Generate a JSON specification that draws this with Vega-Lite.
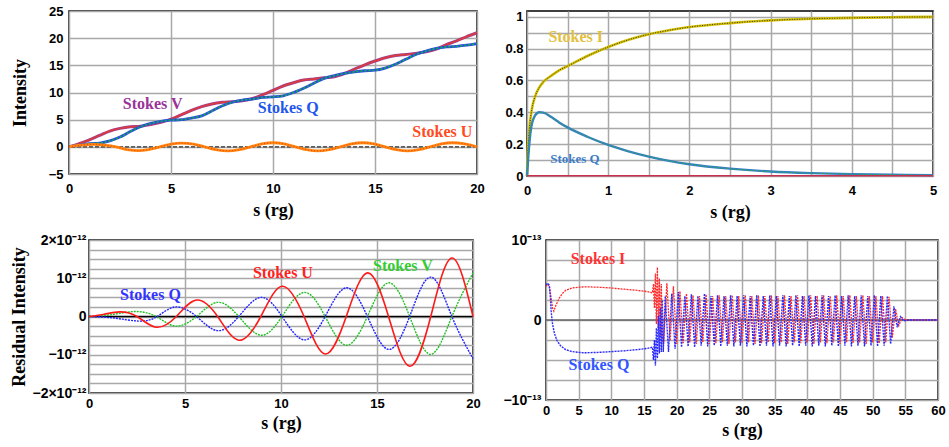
{
  "$schema": "https://vega.github.io/schema/vega-lite/v6.json",
  "padding": {"left": 9, "top": 3, "right": 0, "bottom": 0},
  "background": "white",
  "config": {
    "view": {"stroke": "#000000", "strokeWidth": 1.5},
    "axis": {
      "labelFont": "Liberation Sans", "labelFontWeight": "bold", "labelFontSize": 13, "labelColor": "#000000",
      "titleFont": "Liberation Serif", "titleFontWeight": "bold", "titleFontSize": 18, "titleColor": "#000000",
      "grid": true, "gridColor": "#a8a8a8", "gridWidth": 1.5, "ticks": false, "domain": false,
      "labelFlush": false, "labelOverlap": false, "tickCount": 100
    },
    "text": {"font": "Liberation Serif", "fontWeight": "bold", "fontSize": 16}
  },
  "datasets": {
    "tl_V": [
      {"s":0,"v":0},{"s":0.5,"v":0.6},{"s":1,"v":1.3},{"s":1.5,"v":2.1},{"s":2,"v":2.9},{"s":2.5,"v":3.4},{"s":3,"v":3.7},{"s":3.5,"v":3.8},{"s":4,"v":4.1},{"s":4.5,"v":4.5},{"s":5,"v":5.1},{"s":5.5,"v":5.9},{"s":6,"v":6.7},{"s":6.5,"v":7.4},{"s":7,"v":7.9},{"s":7.5,"v":8.2},{"s":8,"v":8.3},{"s":8.5,"v":8.5},{"s":9,"v":8.9},{"s":9.5,"v":9.6},{"s":10,"v":10.4},{"s":10.5,"v":11.2},{"s":11,"v":11.8},{"s":11.5,"v":12.3},{"s":12,"v":12.5},{"s":12.5,"v":12.7},{"s":13,"v":12.9},{"s":13.5,"v":13.5},{"s":14,"v":14.3},{"s":14.5,"v":15.1},{"s":15,"v":15.8},{"s":15.5,"v":16.4},{"s":16,"v":16.8},{"s":16.5,"v":17},{"s":17,"v":17.2},{"s":17.5,"v":17.5},{"s":18,"v":18},{"s":18.5,"v":18.8},{"s":19,"v":19.5},{"s":19.5,"v":20.3},{"s":20,"v":21}
    ],
    "tl_Q": [
      {"s":0,"v":0},{"s":0.5,"v":0.3},{"s":1,"v":0.6},{"s":1.5,"v":0.7},{"s":2,"v":1.1},{"s":2.5,"v":1.8},{"s":3,"v":2.8},{"s":3.5,"v":3.7},{"s":4,"v":4.3},{"s":4.5,"v":4.7},{"s":5,"v":4.9},{"s":5.5,"v":5},{"s":6,"v":5.3},{"s":6.5,"v":5.7},{"s":7,"v":6.6},{"s":7.5,"v":7.5},{"s":8,"v":8.2},{"s":8.5,"v":8.6},{"s":9,"v":8.8},{"s":9.5,"v":9.1},{"s":10,"v":9.2},{"s":10.5,"v":9.4},{"s":11,"v":10},{"s":11.5,"v":10.8},{"s":12,"v":11.7},{"s":12.5,"v":12.6},{"s":13,"v":13.1},{"s":13.5,"v":13.5},{"s":14,"v":13.8},{"s":14.5,"v":14},{"s":15,"v":14.1},{"s":15.5,"v":14.5},{"s":16,"v":15.2},{"s":16.5,"v":16.1},{"s":17,"v":17},{"s":17.5,"v":17.6},{"s":18,"v":18.1},{"s":18.5,"v":18.4},{"s":19,"v":18.5},{"s":19.5,"v":18.7},{"s":20,"v":19}
    ],
    "tl_U": [
      {"s":0,"v":0},{"s":0.6,"v":0.3},{"s":1.2,"v":0.45},{"s":1.75,"v":0.3},{"s":2.3,"v":0},{"s":2.85,"v":-0.5},{"s":3.4,"v":-0.7},{"s":3.9,"v":-0.5},{"s":4.45,"v":0},{"s":5,"v":0.5},{"s":5.5,"v":0.7},{"s":6.1,"v":0.5},{"s":6.65,"v":0},{"s":7.2,"v":-0.53},{"s":7.8,"v":-0.75},{"s":8.35,"v":-0.53},{"s":8.9,"v":0},{"s":9.45,"v":0.53},{"s":10,"v":0.75},{"s":10.55,"v":0.53},{"s":11.1,"v":0},{"s":11.65,"v":-0.53},{"s":12.2,"v":-0.75},{"s":12.75,"v":-0.53},{"s":13.3,"v":0},{"s":13.85,"v":0.53},{"s":14.4,"v":0.75},{"s":14.95,"v":0.53},{"s":15.5,"v":0},{"s":16.05,"v":-0.53},{"s":16.6,"v":-0.75},{"s":17.15,"v":-0.53},{"s":17.7,"v":0},{"s":18.25,"v":0.53},{"s":18.8,"v":0.75},{"s":19.4,"v":0.53},{"s":20,"v":0}
    ],
    "tr_I": [
      {"s":0,"v":0},{"s":0.01,"v":0.15},{"s":0.03,"v":0.3},{"s":0.06,"v":0.42},{"s":0.1,"v":0.5},{"s":0.15,"v":0.555},{"s":0.2,"v":0.59},{"s":0.3,"v":0.63},{"s":0.4,"v":0.665},{"s":0.5,"v":0.69},{"s":0.75,"v":0.755},{"s":1,"v":0.81},{"s":1.25,"v":0.855},{"s":1.5,"v":0.89},{"s":1.75,"v":0.915},{"s":2,"v":0.935},{"s":2.5,"v":0.96},{"s":3,"v":0.977},{"s":3.5,"v":0.987},{"s":4,"v":0.993},{"s":4.5,"v":0.997},{"s":5,"v":0.999}
    ],
    "tr_Q": [
      {"s":0,"v":0},{"s":0.02,"v":0.15},{"s":0.05,"v":0.3},{"s":0.1,"v":0.38},{"s":0.15,"v":0.4},{"s":0.2,"v":0.398},{"s":0.3,"v":0.37},{"s":0.4,"v":0.335},{"s":0.5,"v":0.305},{"s":0.75,"v":0.245},{"s":1,"v":0.195},{"s":1.25,"v":0.155},{"s":1.5,"v":0.122},{"s":1.75,"v":0.095},{"s":2,"v":0.074},{"s":2.5,"v":0.046},{"s":3,"v":0.028},{"s":3.5,"v":0.018},{"s":4,"v":0.012},{"s":4.5,"v":0.008},{"s":5,"v":0.005}
    ],
    "bl_U": [
      {"s":0,"v":0},{"s":0.8,"v":0.06e-12},{"s":1.6,"v":0.12e-12},{"s":2.5,"v":0},{"s":3.5,"v":-0.28e-12},{"s":4.55,"v":0},{"s":5.6,"v":0.43e-12},{"s":6.7,"v":0},{"s":7.8,"v":-0.62e-12},{"s":8.95,"v":0},{"s":10.05,"v":0.79e-12},{"s":11.2,"v":0},{"s":12.3,"v":-0.98e-12},{"s":13.4,"v":0},{"s":14.5,"v":1.14e-12},{"s":15.6,"v":0},{"s":16.7,"v":-1.3e-12},{"s":17.8,"v":0},{"s":18.9,"v":1.53e-12},{"s":20,"v":0}
    ],
    "bl_Q": [
      {"s":0,"v":0},{"s":1.3,"v":-0.04e-12},{"s":2.6,"v":-0.12e-12},{"s":3.55,"v":0},{"s":4.5,"v":0.25e-12},{"s":5.6,"v":0},{"s":6.7,"v":-0.37e-12},{"s":7.8,"v":0},{"s":8.95,"v":0.5e-12},{"s":10.05,"v":0},{"s":11.2,"v":-0.61e-12},{"s":12.3,"v":0},{"s":13.4,"v":0.75e-12},{"s":14.5,"v":0},{"s":15.6,"v":-0.86e-12},{"s":16.7,"v":0},{"s":17.8,"v":1.03e-12},{"s":18.9,"v":0},{"s":20,"v":-1.1e-12}
    ],
    "bl_V": [
      {"s":0,"v":0},{"s":1.2,"v":0.05e-12},{"s":2.4,"v":0.13e-12},{"s":3.5,"v":0},{"s":4.5,"v":-0.25e-12},{"s":5.6,"v":0},{"s":6.7,"v":0.37e-12},{"s":7.8,"v":0},{"s":8.95,"v":-0.49e-12},{"s":10.05,"v":0},{"s":11.2,"v":0.63e-12},{"s":12.3,"v":0},{"s":13.4,"v":-0.75e-12},{"s":14.5,"v":0},{"s":15.6,"v":0.88e-12},{"s":16.7,"v":0},{"s":17.8,"v":-0.99e-12},{"s":18.9,"v":0},{"s":20,"v":1.14e-12}
    ],
    "br_I": [
      {"s":0,"v":0.42e-13},{"s":0.25,"v":0.45e-13},{"s":0.5,"v":0.43e-13},{"s":0.75,"v":0.3e-13},{"s":1,"v":0.15e-13},{"s":1.2,"v":0.11e-13},{"s":1.5,"v":0.18e-13},{"s":2,"v":0.27e-13},{"s":2.5,"v":0.33e-13},{"s":3,"v":0.37e-13},{"s":4,"v":0.4e-13},{"s":5,"v":0.41e-13},{"s":6,"v":0.415e-13},{"s":8,"v":0.41e-13},{"s":10,"v":0.4e-13},{"s":12,"v":0.385e-13},{"s":14,"v":0.37e-13},{"s":15.5,"v":0.355e-13},{"s":16.3,"v":0.34e-13},
      {"s":16.45,"v":0.45e-13},{"s":16.6,"v":0.15e-13},{"s":16.75,"v":0.58e-13},{"s":16.9,"v":-0.05e-13},{"s":17.05,"v":0.66e-13},{"s":17.2,"v":-0.1e-13},{"s":17.35,"v":0.52e-13},{"s":17.5,"v":-0.2e-13},{"s":17.65,"v":0.45e-13},{"s":17.8,"v":-0.25e-13},
      {"s":18,"v":-0.3e-13},{"s":18.5,"v":0.46e-13},{"s":19,"v":-0.26e-13},{"s":19.5,"v":0.42e-13},{"s":20,"v":-0.3e-13},{"s":20.5,"v":0.36e-13},{"s":21,"v":-0.29e-13},{"s":21.5,"v":0.33e-13},{"s":22,"v":-0.28e-13},{"s":22.5,"v":0.31e-13},{"s":23,"v":-0.3e-13},{"s":23.5,"v":0.3e-13},{"s":24,"v":-0.28e-13},{"s":24.5,"v":0.32e-13},{"s":25,"v":-0.3e-13},{"s":25.5,"v":0.3e-13},{"s":26,"v":-0.29e-13},{"s":26.5,"v":0.31e-13},{"s":27,"v":-0.28e-13},{"s":27.5,"v":0.3e-13},{"s":28,"v":-0.3e-13},{"s":28.5,"v":0.31e-13},{"s":29,"v":-0.28e-13},{"s":29.5,"v":0.3e-13},{"s":30,"v":-0.29e-13},{"s":30.5,"v":0.31e-13},{"s":31,"v":-0.28e-13},{"s":31.5,"v":0.3e-13},{"s":32,"v":-0.3e-13},{"s":32.5,"v":0.31e-13},{"s":33,"v":-0.29e-13},{"s":33.5,"v":0.3e-13},{"s":34,"v":-0.28e-13},{"s":34.5,"v":0.31e-13},{"s":35,"v":-0.29e-13},{"s":35.5,"v":0.3e-13},{"s":36,"v":-0.28e-13},{"s":36.5,"v":0.31e-13},{"s":37,"v":-0.3e-13},{"s":37.5,"v":0.3e-13},{"s":38,"v":-0.28e-13},{"s":38.5,"v":0.31e-13},{"s":39,"v":-0.29e-13},{"s":39.5,"v":0.3e-13},{"s":40,"v":-0.28e-13},{"s":40.5,"v":0.31e-13},{"s":41,"v":-0.3e-13},{"s":41.5,"v":0.3e-13},{"s":42,"v":-0.28e-13},{"s":42.5,"v":0.31e-13},{"s":43,"v":-0.29e-13},{"s":43.5,"v":0.3e-13},{"s":44,"v":-0.28e-13},{"s":44.5,"v":0.31e-13},{"s":45,"v":-0.3e-13},{"s":45.5,"v":0.3e-13},{"s":46,"v":-0.28e-13},{"s":46.5,"v":0.31e-13},{"s":47,"v":-0.29e-13},{"s":47.5,"v":0.3e-13},{"s":48,"v":-0.28e-13},{"s":48.5,"v":0.31e-13},{"s":49,"v":-0.3e-13},{"s":49.5,"v":0.3e-13},{"s":50,"v":-0.28e-13},{"s":50.5,"v":0.3e-13},{"s":51,"v":-0.29e-13},{"s":51.5,"v":0.3e-13},{"s":52,"v":-0.28e-13},{"s":52.5,"v":0.29e-13},{"s":53,"v":-0.22e-13},{"s":53.5,"v":0.14e-13},{"s":54,"v":-0.07e-13},{"s":54.5,"v":0.03e-13},{"s":55,"v":0},{"s":60,"v":0}
    ],
    "br_Q": [
      {"s":0,"v":0.44e-13},{"s":0.3,"v":0.46e-13},{"s":0.5,"v":0.43e-13},{"s":0.65,"v":0.3e-13},{"s":0.8,"v":0.1e-13},{"s":1,"v":-0.05e-13},{"s":1.3,"v":-0.17e-13},{"s":1.7,"v":-0.26e-13},{"s":2.2,"v":-0.32e-13},{"s":3,"v":-0.37e-13},{"s":4,"v":-0.395e-13},{"s":5,"v":-0.405e-13},{"s":6,"v":-0.41e-13},{"s":8,"v":-0.405e-13},{"s":10,"v":-0.395e-13},{"s":12,"v":-0.385e-13},{"s":14,"v":-0.37e-13},{"s":15.5,"v":-0.355e-13},{"s":16.3,"v":-0.34e-13},
      {"s":16.45,"v":-0.5e-13},{"s":16.6,"v":-0.25e-13},{"s":16.75,"v":-0.57e-13},{"s":16.9,"v":-0.1e-13},{"s":17.05,"v":-0.48e-13},{"s":17.2,"v":0.05e-13},{"s":17.35,"v":-0.42e-13},{"s":17.5,"v":0.15e-13},{"s":17.65,"v":-0.4e-13},{"s":17.8,"v":0.25e-13},{"s":17.95,"v":-0.4e-13},
      {"s":18.25,"v":0.3e-13},{"s":18.75,"v":-0.4e-13},{"s":19.25,"v":0.33e-13},{"s":19.75,"v":-0.36e-13},{"s":20.25,"v":0.35e-13},{"s":20.75,"v":-0.34e-13},{"s":21.25,"v":0.3e-13},{"s":21.75,"v":-0.33e-13},{"s":22.25,"v":0.32e-13},{"s":22.75,"v":-0.34e-13},{"s":23.25,"v":0.3e-13},{"s":23.75,"v":-0.32e-13},{"s":24.25,"v":0.33e-13},{"s":24.75,"v":-0.33e-13},{"s":25.25,"v":0.3e-13},{"s":25.75,"v":-0.32e-13},{"s":26.25,"v":0.31e-13},{"s":26.75,"v":-0.33e-13},{"s":27.25,"v":0.3e-13},{"s":27.75,"v":-0.32e-13},{"s":28.25,"v":0.31e-13},{"s":28.75,"v":-0.33e-13},{"s":29.25,"v":0.3e-13},{"s":29.75,"v":-0.32e-13},{"s":30.25,"v":0.31e-13},{"s":30.75,"v":-0.33e-13},{"s":31.25,"v":0.3e-13},{"s":31.75,"v":-0.32e-13},{"s":32.25,"v":0.31e-13},{"s":32.75,"v":-0.33e-13},{"s":33.25,"v":0.3e-13},{"s":33.75,"v":-0.32e-13},{"s":34.25,"v":0.31e-13},{"s":34.75,"v":-0.33e-13},{"s":35.25,"v":0.3e-13},{"s":35.75,"v":-0.32e-13},{"s":36.25,"v":0.31e-13},{"s":36.75,"v":-0.33e-13},{"s":37.25,"v":0.3e-13},{"s":37.75,"v":-0.32e-13},{"s":38.25,"v":0.31e-13},{"s":38.75,"v":-0.33e-13},{"s":39.25,"v":0.3e-13},{"s":39.75,"v":-0.32e-13},{"s":40.25,"v":0.31e-13},{"s":40.75,"v":-0.33e-13},{"s":41.25,"v":0.3e-13},{"s":41.75,"v":-0.32e-13},{"s":42.25,"v":0.31e-13},{"s":42.75,"v":-0.33e-13},{"s":43.25,"v":0.3e-13},{"s":43.75,"v":-0.32e-13},{"s":44.25,"v":0.31e-13},{"s":44.75,"v":-0.33e-13},{"s":45.25,"v":0.3e-13},{"s":45.75,"v":-0.32e-13},{"s":46.25,"v":0.31e-13},{"s":46.75,"v":-0.33e-13},{"s":47.25,"v":0.3e-13},{"s":47.75,"v":-0.32e-13},{"s":48.25,"v":0.31e-13},{"s":48.75,"v":-0.33e-13},{"s":49.25,"v":0.3e-13},{"s":49.75,"v":-0.32e-13},{"s":50.25,"v":0.31e-13},{"s":50.75,"v":-0.33e-13},{"s":51.25,"v":0.3e-13},{"s":51.75,"v":-0.32e-13},{"s":52.25,"v":0.3e-13},{"s":52.75,"v":-0.3e-13},{"s":53.25,"v":0.17e-13},{"s":53.75,"v":-0.09e-13},{"s":54.25,"v":0.04e-13},{"s":54.75,"v":-0.01e-13},{"s":55.5,"v":0},{"s":60,"v":0}
    ],
    "labels": [
      {"p":"tl","t":"Stokes V","s":4.1,"v":7.9},
      {"p":"tl","t":"Stokes Q","s":10.75,"v":7.2},
      {"p":"tl","t":"Stokes U","s":18.3,"v":2.8},
      {"p":"tr","t":"Stokes I","s":0.6,"v":0.873},
      {"p":"tr","t":"Stokes Q","s":0.59,"v":0.107},
      {"p":"bl","t":"Stokes Q","s":3.2,"v":0.56e-12},
      {"p":"bl","t":"Stokes U","s":10.1,"v":1.14e-12},
      {"p":"bl","t":"Stokes V","s":16.35,"v":1.32e-12},
      {"p":"br","t":"Stokes I","s":7.96,"v":0.76e-13},
      {"p":"br","t":"Stokes Q","s":8.1,"v":-0.56e-13}
    ]
  },
  "spacing": 10,
  "vconcat": [
    {
      "spacing": 19,
      "hconcat": [
        {
          "spacing": 0,
          "hconcat": [
            {"width": 1, "height": 1, "view": {"stroke": null}, "data": {"values": [{}]}, "mark": {"type": "text", "text": ""}, "encoding": {}},
            {
              "width": 408, "height": 163,
              "layer": [
                {"data": {"name": "tl_V"}, "mark": {"type": "line", "color": "#a43c8c", "strokeWidth": 3, "interpolate": "monotone"},
                 "encoding": {
                   "x": {"field": "s", "type": "quantitative", "scale": {"domain": [0, 20], "nice": false, "zero": false},
                         "axis": {"values": [0, 5, 10, 15, 20], "format": "d", "title": "s (rg)", "labelPadding": 8, "titlePadding": 6, "tickCount": 100}},
                   "y": {"field": "v", "type": "quantitative", "scale": {"domain": [-5, 25], "nice": false, "zero": false},
                         "axis": {"values": [-5, 0, 5, 10, 15, 20, 25], "format": "d", "title": "Intensity", "labelPadding": 6, "titlePadding": 19, "tickCount": 100}}}},
                {"data": {"name": "tl_V"}, "mark": {"type": "line", "color": "#dc3c3c", "strokeWidth": 1.5, "interpolate": "monotone"},
                 "encoding": {"x": {"field": "s", "type": "quantitative"}, "y": {"field": "v", "type": "quantitative"}}},
                {"data": {"name": "tl_Q"}, "mark": {"type": "line", "color": "#2a4fe0", "strokeWidth": 2.8, "interpolate": "monotone"},
                 "encoding": {"x": {"field": "s", "type": "quantitative"}, "y": {"field": "v", "type": "quantitative"}}},
                {"data": {"name": "tl_Q"}, "mark": {"type": "line", "color": "#10b040", "strokeWidth": 1.6, "strokeDash": [2, 2], "interpolate": "monotone"},
                 "encoding": {"x": {"field": "s", "type": "quantitative"}, "y": {"field": "v", "type": "quantitative"}}},
                {"data": {"values": [{"v": 0}]}, "mark": {"type": "rule", "color": "#333333", "strokeWidth": 1.4, "strokeDash": [4, 2]},
                 "encoding": {"y": {"field": "v", "type": "quantitative"}}},
                {"data": {"name": "tl_U"}, "mark": {"type": "line", "color": "#ff8a10", "strokeWidth": 2.8, "interpolate": "monotone"},
                 "encoding": {"x": {"field": "s", "type": "quantitative"}, "y": {"field": "v", "type": "quantitative"}}},
                {"data": {"name": "tl_U"}, "mark": {"type": "line", "color": "#ff3a10", "strokeWidth": 1.2, "strokeDash": [1, 2], "interpolate": "monotone"},
                 "encoding": {"x": {"field": "s", "type": "quantitative"}, "y": {"field": "v", "type": "quantitative"}}},
                {"data": {"name": "labels"}, "transform": [{"filter": "datum.p == 'tl' && datum.t == 'Stokes V'"}], "mark": {"type": "text", "color": "#993399"},
                 "encoding": {"x": {"field": "s", "type": "quantitative"}, "y": {"field": "v", "type": "quantitative"}, "text": {"field": "t"}}},
                {"data": {"name": "labels"}, "transform": [{"filter": "datum.p == 'tl' && datum.t == 'Stokes Q'"}], "mark": {"type": "text", "color": "#2255ee"},
                 "encoding": {"x": {"field": "s", "type": "quantitative"}, "y": {"field": "v", "type": "quantitative"}, "text": {"field": "t"}}},
                {"data": {"name": "labels"}, "transform": [{"filter": "datum.p == 'tl' && datum.t == 'Stokes U'"}], "mark": {"type": "text", "color": "#ff4a22"},
                 "encoding": {"x": {"field": "s", "type": "quantitative"}, "y": {"field": "v", "type": "quantitative"}, "text": {"field": "t"}}}
              ]
            }
          ]
        },
        {
          "width": 406, "height": 165,
          "layer": [
            {"data": {"name": "tr_I"}, "mark": {"type": "line", "color": "#d6c200", "strokeWidth": 2.6, "interpolate": "monotone"},
             "encoding": {
               "x": {"field": "s", "type": "quantitative", "scale": {"domain": [0, 5], "nice": false, "zero": false},
                     "axis": {"values": [0, 0.5, 1, 1.5, 2, 2.5, 3, 3.5, 4, 4.5, 5], "title": "s (rg)", "labelPadding": 8, "titlePadding": 6, "tickCount": 100,
                              "labelExpr": "datum.value % 1 == 0 ? format(datum.value, 'd') : ''"}},
               "y": {"field": "v", "type": "quantitative", "scale": {"domain": [0, 1.036], "nice": false, "zero": false},
                     "axis": {"values": [0, 0.1, 0.2, 0.3, 0.4, 0.5, 0.6, 0.7, 0.8, 0.9, 1], "title": null, "labelPadding": 4, "tickCount": 100,
                              "labelExpr": "abs(datum.value * 5 - round(datum.value * 5)) < 0.001 ? format(datum.value, '~g') : ''"}}}},
            {"data": {"name": "tr_I"}, "mark": {"type": "line", "color": "#222222", "strokeWidth": 0.9, "strokeDash": [1, 1.5], "interpolate": "monotone"},
             "encoding": {"x": {"field": "s", "type": "quantitative"}, "y": {"field": "v", "type": "quantitative"}}},
            {"data": {"name": "tr_Q"}, "mark": {"type": "line", "color": "#3a7cc8", "strokeWidth": 2.4, "interpolate": "monotone"},
             "encoding": {"x": {"field": "s", "type": "quantitative"}, "y": {"field": "v", "type": "quantitative"}}},
            {"data": {"name": "tr_Q"}, "mark": {"type": "line", "color": "#20b050", "strokeWidth": 1, "strokeDash": [2, 2], "interpolate": "monotone"},
             "encoding": {"x": {"field": "s", "type": "quantitative"}, "y": {"field": "v", "type": "quantitative"}}},
            {"data": {"values": [{"v": 0.002}]}, "mark": {"type": "rule", "color": "#c83050", "strokeWidth": 1.5},
             "encoding": {"y": {"field": "v", "type": "quantitative"}}},
            {"data": {"name": "labels"}, "transform": [{"filter": "datum.p == 'tr' && datum.t == 'Stokes I'"}], "mark": {"type": "text", "color": "#e2c040"},
             "encoding": {"x": {"field": "s", "type": "quantitative"}, "y": {"field": "v", "type": "quantitative"}, "text": {"field": "t"}}},
            {"data": {"name": "labels"}, "transform": [{"filter": "datum.p == 'tr' && datum.t == 'Stokes Q'"}], "mark": {"type": "text", "color": "#3c7cc8", "fontSize": 13},
             "encoding": {"x": {"field": "s", "type": "quantitative"}, "y": {"field": "v", "type": "quantitative"}, "text": {"field": "t"}}}
          ]
        }
      ]
    },
    {
      "spacing": 21,
      "hconcat": [
        {
          "spacing": 0,
          "hconcat": [
            {"width": 1, "height": 1, "view": {"stroke": null}, "data": {"values": [{}]}, "mark": {"type": "text", "text": ""}, "encoding": {}},
            {
              "width": 384, "height": 153,
              "layer": [
                {"data": {"values": [{"v": 0}]}, "mark": {"type": "rule", "color": "#000000", "strokeWidth": 1.5},
                 "encoding": {
                   "y": {"field": "v", "type": "quantitative", "scale": {"domain": [-2e-12, 2e-12], "nice": false, "zero": false},
                         "axis": {"values": [-2e-12, -1.75e-12, -1.5e-12, -1.25e-12, -1e-12, -7.5e-13, -5e-13, -2.5e-13, 0, 2.5e-13, 5e-13, 7.5e-13, 1e-12, 1.25e-12, 1.5e-12, 1.75e-12, 2e-12],
                                  "title": "Residual Intensity", "labelPadding": 3, "titlePadding": 3, "labelFontSize": 14, "tickCount": 100,
                                  "labelExpr": "datum.value > 1.9e-12 ? '2×10⁻¹²' : (datum.value > 0.9e-12 && datum.value < 1.1e-12) ? '10⁻¹²' : abs(datum.value) < 1e-15 ? '0' : (datum.value < -0.9e-12 && datum.value > -1.1e-12) ? '−10⁻¹²' : datum.value < -1.9e-12 ? '−2×10⁻¹²' : ''"}}}},
                {"data": {"name": "bl_V"}, "mark": {"type": "line", "color": "#22c022", "strokeWidth": 1.4, "strokeDash": [2, 1], "interpolate": "natural"},
                 "encoding": {
                   "x": {"field": "s", "type": "quantitative", "scale": {"domain": [0, 20], "nice": false, "zero": false},
                         "axis": {"values": [0, 5, 10, 15, 20], "format": "d", "title": "s (rg)", "labelPadding": 4, "titlePadding": 4, "tickCount": 100}},
                   "y": {"field": "v", "type": "quantitative"}}},
                {"data": {"name": "bl_Q"}, "mark": {"type": "line", "color": "#2222ff", "strokeWidth": 1.4, "strokeDash": [2, 1], "interpolate": "natural"},
                 "encoding": {"x": {"field": "s", "type": "quantitative"}, "y": {"field": "v", "type": "quantitative"}}},
                {"data": {"name": "bl_U"}, "mark": {"type": "line", "color": "#ff1a1a", "strokeWidth": 1.6, "interpolate": "natural"},
                 "encoding": {"x": {"field": "s", "type": "quantitative"}, "y": {"field": "v", "type": "quantitative"}}},
                {"data": {"name": "labels"}, "transform": [{"filter": "datum.p == 'bl' && datum.t == 'Stokes Q'"}], "mark": {"type": "text", "color": "#3333ff"},
                 "encoding": {"x": {"field": "s", "type": "quantitative"}, "y": {"field": "v", "type": "quantitative"}, "text": {"field": "t"}}},
                {"data": {"name": "labels"}, "transform": [{"filter": "datum.p == 'bl' && datum.t == 'Stokes U'"}], "mark": {"type": "text", "color": "#ff2222"},
                 "encoding": {"x": {"field": "s", "type": "quantitative"}, "y": {"field": "v", "type": "quantitative"}, "text": {"field": "t"}}},
                {"data": {"name": "labels"}, "transform": [{"filter": "datum.p == 'bl' && datum.t == 'Stokes V'"}], "mark": {"type": "text", "color": "#33cc33"},
                 "encoding": {"x": {"field": "s", "type": "quantitative"}, "y": {"field": "v", "type": "quantitative"}, "text": {"field": "t"}}}
              ]
            }
          ]
        },
        {
          "width": 392, "height": 160,
          "layer": [
            {"data": {"values": [{"v": 0}]}, "mark": {"type": "rule", "color": "#666666", "strokeWidth": 1.5},
             "encoding": {
               "y": {"field": "v", "type": "quantitative", "scale": {"domain": [-1e-13, 1e-13], "nice": false, "zero": false},
                     "axis": {"values": [-1e-13, -7.5e-14, -5e-14, -2.5e-14, 0, 2.5e-14, 5e-14, 7.5e-14, 1e-13], "title": null, "labelPadding": 5, "labelFontSize": 14, "tickCount": 100,
                              "labelExpr": "datum.value > 0.9e-13 ? '10⁻¹³' : datum.value < -0.9e-13 ? '−10⁻¹³' : abs(datum.value) < 1e-16 ? '0' : ''"}}}},
            {"data": {"name": "br_I"}, "mark": {"type": "line", "color": "#ff2a2a", "strokeWidth": 1.3, "strokeDash": [2, 1]},
             "encoding": {
               "x": {"field": "s", "type": "quantitative", "scale": {"domain": [0, 60], "nice": false, "zero": false},
                     "axis": {"values": [0, 5, 10, 15, 20, 25, 30, 35, 40, 45, 50, 55, 60], "format": "d", "title": "s (rg)", "labelPadding": 4, "titlePadding": 4, "tickCount": 100}},
               "y": {"field": "v", "type": "quantitative"}}},
            {"data": {"name": "br_Q"}, "mark": {"type": "line", "color": "#2a2aff", "strokeWidth": 1.4, "strokeDash": [2, 1]},
             "encoding": {"x": {"field": "s", "type": "quantitative"}, "y": {"field": "v", "type": "quantitative"}}},
            {"data": {"name": "labels"}, "transform": [{"filter": "datum.p == 'br' && datum.t == 'Stokes I'"}], "mark": {"type": "text", "color": "#ff3333"},
             "encoding": {"x": {"field": "s", "type": "quantitative"}, "y": {"field": "v", "type": "quantitative"}, "text": {"field": "t"}}},
            {"data": {"name": "labels"}, "transform": [{"filter": "datum.p == 'br' && datum.t == 'Stokes Q'"}], "mark": {"type": "text", "color": "#3355ff"},
             "encoding": {"x": {"field": "s", "type": "quantitative"}, "y": {"field": "v", "type": "quantitative"}, "text": {"field": "t"}}}
          ]
        }
      ]
    }
  ]
}
